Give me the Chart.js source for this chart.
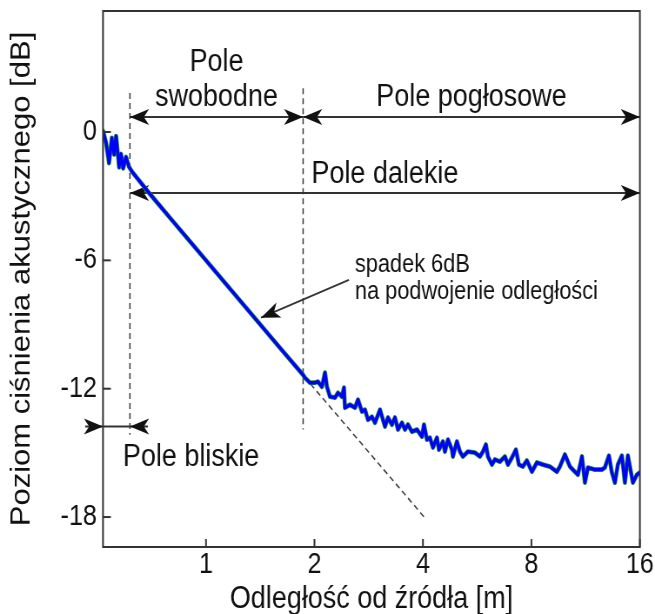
<!DOCTYPE html>
<html>
<head>
<meta charset="utf-8">
<script src="https://cdn.jsdelivr.net/npm/chart.js@4.4.0/dist/chart.umd.min.js"></script>
<style>
  html, body { margin: 0; padding: 0; background: #fff; overflow: hidden; }
</style>
</head>
<body>
<canvas id="chart" width="753" height="614" style="display:block;width:655px;height:614px"></canvas>
<script>
// distance from source [m] and sound pressure level [dB]
const distances = [
  0.518, 0.528, 0.538, 0.548, 0.556, 0.563, 0.574, 0.581, 0.589, 0.600, 0.611, 0.623,
  0.70, 0.80, 0.90, 1.0, 1.2, 1.4, 1.6, 1.858,
  1.882, 1.943, 2.006, 2.045, 2.098, 2.139, 2.166, 2.208, 2.280, 2.324, 2.384, 2.415,
  2.430, 2.509, 2.591, 2.641, 2.709, 2.762, 2.815, 2.888, 2.944, 3.040, 3.138, 3.199,
  3.281, 3.345, 3.410, 3.498, 3.566, 3.635, 3.729, 3.850, 3.975, 4.026, 4.104, 4.183,
  4.264, 4.374, 4.431, 4.545, 4.604, 4.693, 4.815, 4.845, 4.970, 5.066, 5.164, 5.332,
  5.576, 5.757, 5.869, 5.982, 6.059, 6.216, 6.336, 6.542, 6.754, 6.885, 7.063, 7.245,
  7.386, 7.577, 7.773, 8.026, 8.286, 8.610, 9.004, 9.415, 9.597, 9.909, 10.23, 10.56,
  10.77, 11.05, 11.26, 11.48, 12.00, 12.55, 12.79, 13.13, 13.38, 13.64, 13.90, 14.26,
  14.54, 14.82, 15.30, 15.70, 16.0
];
const levels = [
  0.05, -0.50, -1.45, -0.28, -1.05, -0.19, -1.65, -1.03, -1.70, -1.17, -1.62, -1.85,
  -2.91, -4.07, -5.09, -6.0, -7.58, -8.91, -10.07, -11.35,
  -11.49, -11.72, -11.72, -11.67, -11.91, -11.25, -11.91, -12.37, -12.42, -12.19, -12.37, -11.95,
  -12.89, -12.75, -12.89, -12.51, -13.07, -12.98, -13.45, -13.31, -13.59, -12.98, -13.77, -13.35,
  -13.68, -13.35, -13.91, -13.59, -13.91, -13.68, -14.01, -13.91, -14.24, -13.68, -14.38, -14.29,
  -14.75, -14.29, -14.85, -14.47, -14.94, -14.38, -14.85, -15.17, -14.47, -14.94, -15.17, -14.94,
  -14.99, -15.17, -14.94, -14.61, -15.17, -15.55, -15.31, -15.41, -15.17, -15.55, -15.22, -14.85,
  -15.55, -15.64, -15.36, -15.88, -15.45, -15.55, -15.64, -15.88, -15.64, -15.08, -15.64, -15.88,
  -16.02, -15.17, -16.39, -15.69, -15.78, -15.78, -15.69, -15.13, -15.92, -16.39, -15.55, -15.13,
  -16.39, -15.13, -16.39, -16.02, -15.92
];
const xTickValues = [1, 2, 4, 8, 16];
const yTickValues = [0, -6, -12, -18];

// free-field slope (-6 dB per doubling) continued as a dashed guide
const slopeGuideR = [1.95, 4.08];
const slopeGuideDb = [-11.78, -18.1];

// zone borders [m]
const nearEdge = 0.615;
const freeEdge = 1.86;

const points = distances.map((r, i) => ({ x: r, y: levels[i] }));
const FONT = '"Liberation Sans", Arial, sans-serif';
const INK = '#111';

function arrowHead(ctx, x1, y1, x2, y2) {
  const a = Math.atan2(y2 - y1, x2 - x1);
  ctx.save();
  ctx.translate(x2, y2);
  ctx.rotate(a);
  ctx.beginPath();
  ctx.moveTo(0, 0);
  ctx.lineTo(-22, -8);
  ctx.lineTo(-16, 0);
  ctx.lineTo(-22, 8);
  ctx.closePath();
  ctx.fill();
  ctx.restore();
}

function seg(ctx, x1, y1, x2, y2) {
  ctx.beginPath();
  ctx.moveTo(x1, y1);
  ctx.lineTo(x2, y2);
  ctx.stroke();
}

const overlay = {
  id: 'overlay',
  beforeDatasetsDraw(chart) {
    const { ctx, scales: { x, y } } = chart;
    const X = v => x.getPixelForValue(v), Y = v => y.getPixelForValue(v);
    ctx.save();
    ctx.strokeStyle = '#3a3a3a';
    ctx.lineWidth = 1.5;
    ctx.setLineDash([6, 4]);
    seg(ctx, X(nearEdge), Y(1.82), X(nearEdge), Y(-14.15));
    seg(ctx, X(freeEdge), Y(2.05), X(freeEdge), Y(-13.91));
    seg(ctx, X(slopeGuideR[0]), Y(slopeGuideDb[0]), X(slopeGuideR[1]), Y(slopeGuideDb[1]));
    ctx.setLineDash([]);

    ctx.strokeStyle = '#333';
    ctx.fillStyle = '#111';
    ctx.lineWidth = 2;
    // zone arrows
    const topY = Y(0.70), farY = Y(-2.85), nearY = Y(-13.77);
    const xn = X(nearEdge), xf = X(freeEdge), xe = X(16);
    seg(ctx, xn, topY, xf, topY);
    arrowHead(ctx, xf, topY, xn, topY);
    arrowHead(ctx, xn, topY, xf, topY);
    seg(ctx, xf, topY, xe, topY);
    arrowHead(ctx, xe, topY, xf, topY);
    arrowHead(ctx, xf, topY, xe, topY);
    seg(ctx, xn, farY, xe, farY);
    arrowHead(ctx, xe, farY, xn, farY);
    arrowHead(ctx, xn, farY, xe, farY);
    const xl = X(0.518);
    seg(ctx, X(0.462), nearY, X(0.690), nearY);
    arrowHead(ctx, X(0.462), nearY, xl, nearY);
    arrowHead(ctx, X(0.690), nearY, xn, nearY);
    // slope pointer
    seg(ctx, X(2.493), Y(-6.91), X(1.421), Y(-8.68));
    arrowHead(ctx, X(2.493), Y(-6.91), X(1.421), Y(-8.68));

    // labels
    ctx.fillStyle = INK;
    ctx.font = '31px ' + FONT;
    ctx.textAlign = 'center';
    ctx.textBaseline = 'middle';
    ctx.fillText('Pole', (xn + xf) / 2, Y(3.27));
    ctx.fillText('swobodne', (xn + xf) / 2, Y(1.63));
    ctx.fillText('Pole pogłosowe', (xf + xe) / 2, Y(1.63));
    ctx.fillText('Pole dalekie', (xn + xe) / 2, Y(-2.0));
    ctx.fillText('Pole bliskie', X(0.909), Y(-15.22));
    ctx.font = '25px ' + FONT;
    ctx.textAlign = 'left';
    ctx.fillText('spadek 6dB', X(2.59), Y(-6.21));
    ctx.fillText('na podwojenie odległości', X(2.59), Y(-7.47));
    ctx.restore();
  },
  afterDraw(chart) {
    const { ctx, chartArea: a, scales: { x, y } } = chart;
    ctx.save();
    ctx.strokeStyle = '#333';
    ctx.lineWidth = 2;
    ctx.strokeRect(a.left, a.top, a.right - a.left, a.bottom - a.top);
    yTickValues.forEach(v => seg(ctx, a.left, y.getPixelForValue(v), a.left + 9, y.getPixelForValue(v)));
    xTickValues.forEach(v => seg(ctx, x.getPixelForValue(v), a.bottom, x.getPixelForValue(v), a.bottom - 8));
    ctx.restore();
  }
};

const lineStyle = { showLine: true, pointRadius: 0, borderJoinStyle: 'round', borderCapStyle: 'round', tension: 0 };

new Chart(document.getElementById('chart').getContext('2d'), {
  type: 'scatter',
  data: {
    datasets: [
      // first dataset is drawn on top
      { ...lineStyle, data: points, borderColor: '#0000ff', borderWidth: 3.4 },
      { ...lineStyle, data: points, borderColor: '#2a9a2a', borderWidth: 4.8 }
    ]
  },
  options: {
    responsive: false,
    animation: false,
    devicePixelRatio: 1,
    layout: { padding: { top: 11, right: 17.4, bottom: 0, left: 0 } },
    plugins: { legend: { display: false }, tooltip: { enabled: false } },
    scales: {
      x: {
        type: 'logarithmic',
        min: 0.5178,
        max: 16,
        afterBuildTicks: s => { s.ticks = xTickValues.map(v => ({ value: v })); },
        afterFit: s => { s.height = 67; s.paddingLeft = 0; s.paddingRight = 0; },
        grid: { display: false, drawTicks: false },
        border: { display: false },
        ticks: { color: INK, font: { family: FONT, size: 29, lineHeight: 1 }, padding: 3,
                 maxRotation: 0, autoSkip: false, callback: v => String(v) },
        title: { display: true, text: 'Odległość od źródła [m]', color: INK,
                 font: { family: FONT, size: 31, lineHeight: 1 }, padding: { top: 0, bottom: -1 } }
      },
      y: {
        min: -19.40,
        max: 5.657,
        afterBuildTicks: s => { s.ticks = yTickValues.map(v => ({ value: v })); },
        afterFit: s => { s.width = 118.4; s.paddingTop = 0; s.paddingBottom = 0; },
        grid: { display: false, drawTicks: false },
        border: { display: false },
        ticks: { color: INK, font: { family: FONT, size: 29, lineHeight: 1 }, padding: 7 },
        title: { display: true, text: 'Poziom ciśnienia akustycznego [dB]', color: INK,
                 font: { family: FONT, size: 31, lineHeight: 1 }, padding: { top: 10, bottom: 0 } }
      }
    }
  },
  plugins: [overlay]
});
</script>
</body>
</html>
